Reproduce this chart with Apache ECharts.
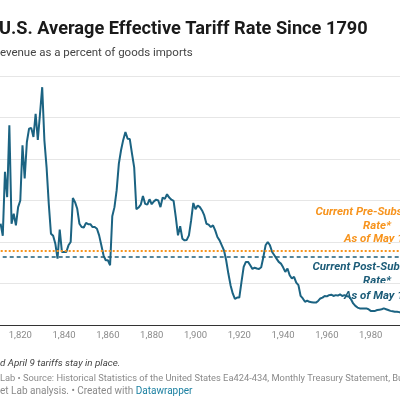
<!DOCTYPE html>
<html>
<head>
<meta charset="utf-8">
<script src="https://cdn.jsdelivr.net/npm/echarts@6/dist/echarts.min.js"></script>
<style>
  html, body { margin: 0; padding: 0; background: #fff; }
  #chart { width: 400px; height: 398px; }
</style>
</head>
<body>
<div id="chart"></div>
<script>
// average effective tariff rate, % of goods imports, one value per year from startYear
var startYear = 1811;
var tariffRate = [
  24.4, 21.5, 36.9, 30.8, 48.1, 24.4, 26.8, 24.0, 28.4, 30.0,   // 1811-1820
  43.3, 35.3, 44.1, 47.3, 47.5, 45.3, 50.9, 44.6, 50.9, 57.3,   // 1821-1830
  44.5, 38.0, 29.2, 22.0, 21.5, 19.6, 16.0, 23.0, 17.6, 17.6,   // 1831-1840
  17.6, 19.2, 20.0, 30.6, 29.6, 28.0, 24.4, 23.6, 23.5, 24.6,   // 1841-1850
  24.3, 24.3, 23.6, 23.6, 23.2, 21.6, 19.2, 16.8, 15.6, 15.6,   // 1851-1860
  14.4, 26.2, 28.4, 32.5, 38.9, 42.1, 44.6, 46.5, 44.9, 44.8,   // 1861-1870
  41.3, 38.0, 27.9, 28.3, 29.0, 31.1, 29.2, 29.0, 30.3, 29.1,   // 1871-1880
  29.8, 30.2, 30.0, 28.4, 30.7, 30.4, 31.5, 30.7, 30.2, 29.9,   // 1881-1890
  26.0, 21.6, 23.8, 20.8, 20.4, 20.5, 21.6, 25.2, 29.4, 27.9,   // 1891-1900
  28.8, 28.4, 27.6, 26.4, 24.4, 24.2, 23.6, 24.0, 22.8, 21.2,   // 1901-1910
  20.4, 19.2, 18.0, 15.6, 12.4, 9.6, 7.6, 6.3, 6.6, 6.6,        // 1911-1920
  10.4, 14.0, 15.2, 15.2, 14.4, 13.5, 13.8, 13.6, 13.5, 13.9,   // 1921-1930
  16.4, 19.2, 20.0, 19.2, 17.6, 16.8, 16.0, 15.2, 14.8, 13.9,   // 1931-1940
  12.8, 13.6, 12.0, 11.2, 11.6, 10.2, 9.6, 7.0, 6.4, 5.6,       // 1941-1950
  5.9, 5.6, 5.5, 5.4, 5.4, 5.8, 6.4, 6.6, 7.0, 6.9,             // 1951-1960
  7.2, 7.3, 7.0, 7.2, 7.1, 7.4, 7.0, 7.2, 7.0, 6.9,             // 1961-1970
  6.2, 5.2, 4.6, 4.2, 4.0, 4.0, 4.0, 4.0, 3.8, 3.4,             // 1971-1980
  3.4, 3.4, 3.6, 3.7, 3.8, 4.0, 3.8, 3.6, 3.4, 3.3,             // 1981-1990
  3.2, 3.2, 3.1, 3.1                                            // 1991-1994
];
var preSubRate = 17.8;
var postSubRate = 16.4;

var xMin = 1780, xMax = 2040, xStep = 20;
var yMin = 0, yMax = 60, yStep = 10;

var blue = '#1b6382';
var darkBlue = '#1c5c78';
var orange = '#f7941e';
var font = 'Roboto, "Noto Sans", sans-serif';

// only a slice of the original chart is shown, so the plot runs past both edges
function px(year) { return 20.3 + (year - 1820) * 2.19; }

// width of hidden leading text, so the visible part starts at the left edge
var ctx = document.createElement('canvas').getContext('2d');
function textW(str, f) { ctx.font = f; return ctx.measureText(str).width; }

var seriesData = tariffRate.map(function (v, i) { return [startYear + i, v]; });

var sourceFont = '9.3px ' + font;
var creditFont = '10px ' + font;
var creditText = 'Budget Lab analysis. \u2022 Created with ';
var creditX = -textW('Budg', creditFont);

var chart = echarts.init(document.getElementById('chart'));

var option = {
  animation: false,
  grid: {
    left: px(xMin),
    right: 400 - px(xMax),
    top: 76,
    bottom: 73,
    containLabel: false,
    outerBoundsMode: 'none'
  },
  xAxis: {
    type: 'value',
    min: xMin,
    max: xMax,
    interval: xStep,
    axisLine: { show: true, lineStyle: { color: '#333', width: 1 } },
    axisTick: { show: false },
    splitLine: { show: false },
    axisLabel: { color: '#8a8a8a', fontSize: 9.5, fontFamily: font, margin: 6 }
  },
  yAxis: {
    type: 'value',
    min: yMin,
    max: yMax,
    interval: yStep,
    axisLine: { show: false },
    axisTick: { show: false },
    splitLine: { lineStyle: { color: '#e6e6e6', width: 1 } },
    axisLabel: { formatter: '{value}%', color: '#8a8a8a', fontSize: 9.5, fontFamily: font }
  },
  series: [{
    type: 'line',
    data: seriesData,
    showSymbol: false,
    lineStyle: { color: blue, width: 2 },
    itemStyle: { color: blue },
    markLine: {
      silent: true,
      symbol: 'none',
      label: { show: false },
      data: [
        { yAxis: preSubRate, lineStyle: { color: orange, type: [2, 2], width: 2 } },
        { yAxis: postSubRate, lineStyle: { color: darkBlue, type: [4, 3], width: 1.5 } }
      ]
    }
  }],
  graphic: [
    {
      type: 'text', x: -1, y: 29,
      style: {
        text: 'U.S. Average Effective Tariff Rate Since 1790',
        font: 'bold 18.2px ' + font, fill: '#1a1a1a', verticalAlign: 'middle'
      }
    },
    {
      type: 'text', x: -textW('Customs duty r', '11.5px ' + font), y: 53,
      style: {
        text: 'Customs duty revenue as a percent of goods imports',
        font: '11.5px ' + font, fill: '#444', verticalAlign: 'middle'
      }
    },
    // annotations for the two reference lines
    {
      type: 'text', x: 377, y: 226,
      style: {
        text: 'Current Pre-Substitution\nRate*\nAs of May 12',
        font: 'italic bold 11.5px ' + font, fill: orange,
        align: 'center', verticalAlign: 'middle', lineHeight: 13.5
      }
    },
    {
      type: 'text', x: 377, y: 281.5,
      style: {
        text: 'Current Post-Substitution\nRate*\nAs of May 12',
        font: 'italic bold 11.5px ' + font, fill: darkBlue,
        align: 'center', verticalAlign: 'middle', lineHeight: 14.2
      }
    },
    // notes
    {
      type: 'text', x: -textW('an', 'italic 9.8px ' + font), y: 364,
      style: {
        text: 'and April 9 tariffs stay in place.',
        font: 'italic 9.8px ' + font, fill: '#444', verticalAlign: 'middle'
      }
    },
    {
      type: 'text', x: -textW('Chart: The Budget ', sourceFont), y: 379,
      style: {
        text: 'Chart: The Budget Lab \u2022 Source: Historical Statistics of the United States Ea424-434, Monthly Treasury Statement, Bureau of Economic Analysis,',
        font: sourceFont, fill: '#8a8a8a', verticalAlign: 'middle'
      }
    },
    {
      type: 'text', x: creditX, y: 391,
      style: { text: creditText, font: creditFont, fill: '#8a8a8a', verticalAlign: 'middle' }
    },
    {
      type: 'text', x: creditX + textW(creditText, creditFont), y: 391,
      style: { text: 'Datawrapper', font: creditFont, fill: '#1d81a2', verticalAlign: 'middle' }
    }
  ]
};

chart.setOption(option);
</script>
</body>
</html>
